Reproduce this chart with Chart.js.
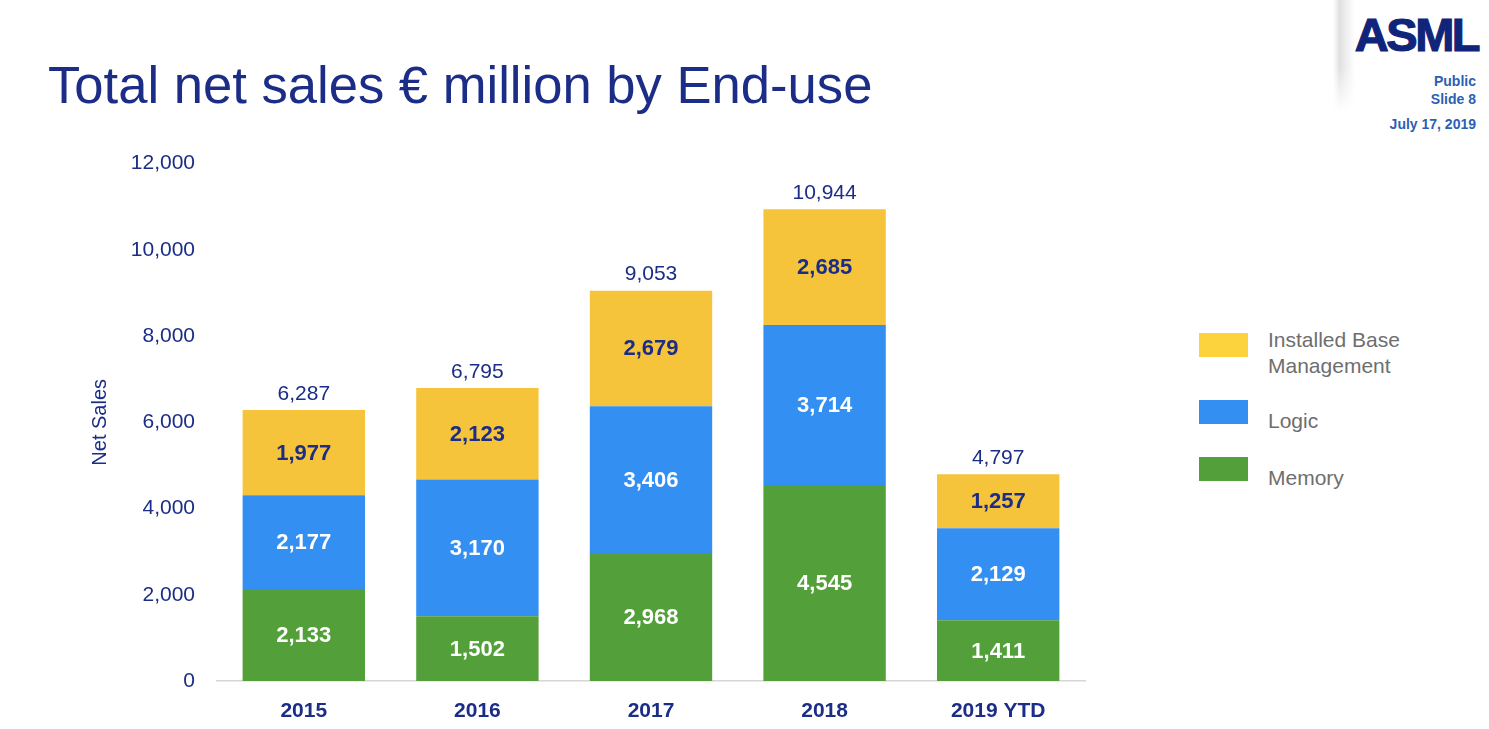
<!DOCTYPE html>
<html>
<head>
<meta charset="utf-8">
<title>Total net sales by End-use</title>
<script src="https://cdn.jsdelivr.net/npm/chart.js@4.4.0/dist/chart.umd.min.js"></script>
<style>
  body { margin: 0; background: #fff; font-family: 'Liberation Sans', Arial, sans-serif; }
  #page { position: relative; width: 1489px; height: 729px; overflow: hidden; background: #fff; }
  h1 { position: absolute; left: 48px; top: 55px; margin: 0; font-weight: normal; font-size: 52.6px;
       line-height: 60px; color: #1b2d86; white-space: nowrap; }
  #sombra { position: absolute; left: 1333px; top: 0; width: 22px; height: 112px;
            background: linear-gradient(to right, rgba(190,190,190,0.0), rgba(200,200,200,0.55) 30%, rgba(255,255,255,0) 100%);
            -webkit-mask-image: linear-gradient(to bottom, #000 60%, transparent); }
  #logo { position: absolute; right: 11px; top: 11px; font-weight: bold; font-size: 47px; line-height: 48px;
          letter-spacing: -2.5px; color: #10257a; -webkit-text-stroke: 1.2px #10257a; }
  .info { position: absolute; right: 13px; font-weight: bold; font-size: 14px; line-height: 16px; color: #2b5fb4; text-align: right; }
  #chart-wrap { position: absolute; left: 0; top: 129px; width: 1100px; height: 600px; }
  #leyenda { position: absolute; left: 0; top: 0; }
  .item { position: absolute; left: 1199px; }
  .caja { position: absolute; left: 0; top: 0; width: 49px; height: 24px; }
  .texto { position: absolute; left: 69px; font-size: 21px; line-height: 26px; color: #6e6e6e; white-space: nowrap; }
</style>
</head>
<body>
<div id="page">
  <h1>Total net sales € million by End-use</h1>
  <div id="sombra"></div>
  <div id="logo">ASML</div>
  <div class="info" style="top:73px">Public</div>
  <div class="info" style="top:91px">Slide 8</div>
  <div class="info" style="top:116px">July 17, 2019</div>
  <div id="chart-wrap"><canvas id="chartCanvas" width="1100" height="600" style="width:1100px;height:600px"></canvas></div>
  <div id="leyenda"></div>
</div>

<script>
// datos (€ millones)
const categorias = ['2015', '2016', '2017', '2018', '2019 YTD'];
const memory = [2133, 1502, 2968, 4545, 1411];
const logic = [2177, 3170, 3406, 3714, 2129];
const installedBase = [1977, 2123, 2679, 2685, 1257];
const totales = [6287, 6795, 9053, 10944, 4797];
const ticksY = [0, 2000, 4000, 6000, 8000, 10000, 12000];

const azulOscuro = '#1b2d86';
const fmt = (v) => v.toLocaleString('en-US');

const datasets = [
  { label: 'Memory', data: memory, backgroundColor: '#53a03a', labelColor: '#ffffff', legendColor: '#53a03a' },
  { label: 'Logic', data: logic, backgroundColor: '#348ff3', labelColor: '#ffffff', legendColor: '#348ff3' },
  { label: 'Installed Base Management', data: installedBase, backgroundColor: '#f6c43a', labelColor: azulOscuro, legendColor: '#fcd23d' },
];

// etiquetas dentro de las barras y totales arriba
const etiquetasPlugin = {
  id: 'etiquetas',
  afterDatasetsDraw(chart) {
    const ctx = chart.ctx;
    ctx.save();
    ctx.textAlign = 'center';
    ctx.textBaseline = 'middle';
    ctx.font = 'bold 22px "Liberation Sans", Arial, sans-serif';
    chart.data.datasets.forEach((ds, i) => {
      const meta = chart.getDatasetMeta(i);
      meta.data.forEach((bar, j) => {
        const { x, y, base } = bar.getProps(['x', 'y', 'base'], true);
        ctx.fillStyle = ds.labelColor;
        ctx.fillText(fmt(ds.data[j]), x, (y + base) / 2 + 1);
      });
    });

    const arriba = chart.getDatasetMeta(chart.data.datasets.length - 1);
    ctx.font = '21px "Liberation Sans", Arial, sans-serif';
    ctx.fillStyle = azulOscuro;
    arriba.data.forEach((bar, j) => {
      ctx.fillText(fmt(totales[j]), bar.x, bar.y - 16);
    });
    ctx.restore();
  },
};

const chart = new Chart(document.getElementById('chartCanvas').getContext('2d'), {
  type: 'bar',
  data: {
    labels: categorias,
    datasets: datasets.map((d) => ({
      label: d.label,
      data: d.data,
      backgroundColor: d.backgroundColor,
      labelColor: d.labelColor,
      borderWidth: 0,
      categoryPercentage: 1,
      barPercentage: 0.705,
    })),
  },
  options: {
    responsive: false,
    animation: false,
    layout: { padding: { top: 10, right: 15, left: 0, bottom: 0 } },
    plugins: { legend: { display: false }, tooltip: { enabled: false } },
    scales: {
      x: {
        stacked: true,
        grid: { display: false, drawTicks: false },
        border: { display: true, color: '#d6d6d6', width: 1.5 },
        ticks: {
          color: azulOscuro,
          padding: 18,
          font: { family: '"Liberation Sans", Arial, sans-serif', size: 21, weight: 'bold' },
        },
        afterFit(scale) { scale.height = 48; },
      },
      y: {
        stacked: true,
        min: 0,
        max: 12000,
        grid: { display: false, drawTicks: false },
        border: { display: false },
        afterBuildTicks(scale) { scale.ticks = ticksY.map((v) => ({ value: v })); },
        ticks: {
          color: azulOscuro,
          padding: 22,
          font: { family: '"Liberation Sans", Arial, sans-serif', size: 21 },
          callback: (v) => fmt(v),
        },
        title: {
          display: true,
          text: 'Net Sales',
          color: azulOscuro,
          font: { family: '"Liberation Sans", Arial, sans-serif', size: 20 },
          padding: { top: 88, bottom: 0 },
        },
        afterFit(scale) { scale.width = 217; },
      },
    },
  },
  plugins: [etiquetasPlugin],
});

// leyenda en HTML (orden de arriba a abajo como en la diapositiva)
const leyenda = document.getElementById('leyenda');
const posLeyenda = [333, 400, 457];
const offsetTexto = [-6, 8, 8];
const textosLeyenda = [['Installed Base', 'Management'], ['Logic'], ['Memory']];
[...datasets].reverse().forEach((d, i) => {
  const item = document.createElement('div');
  item.className = 'item';
  item.style.top = posLeyenda[i] + 'px';
  item.innerHTML = `<div class="caja" style="background:${d.legendColor}"></div>
    <div class="texto" style="top:${offsetTexto[i]}px">${textosLeyenda[i].join('<br>')}</div>`;
  leyenda.appendChild(item);
});
</script>
</body>
</html>
